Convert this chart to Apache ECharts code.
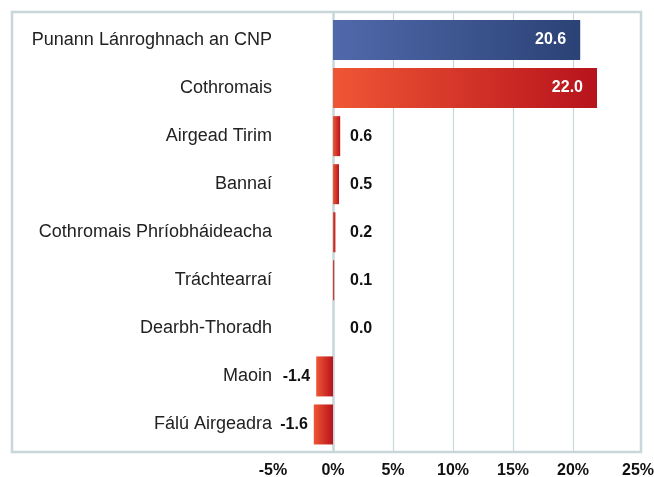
<!DOCTYPE html>
<html>
<head>
<meta charset="utf-8">
<script src="https://cdn.jsdelivr.net/npm/echarts@6/dist/echarts.min.js"></script>
<style>
  html, body { margin: 0; padding: 0; background: #fff; }
  #chart { width: 654px; height: 477px; }
</style>
</head>
<body>
<div id="chart"></div>
<script>
const categories = [
  'Punann Lánroghnach an CNP',
  'Cothromais',
  'Airgead Tirim',
  'Bannaí',
  'Cothromais Phríobháideacha',
  'Tráchtearraí',
  'Dearbh-Thoradh',
  'Maoin',
  'Fálú Airgeadra'
];
const values = [20.6, 22.0, 0.6, 0.5, 0.2, 0.1, 0.0, -1.4, -1.6];
const axisMin = -5;
const axisMax = 25;
const axisStep = 5;

const lineColor = '#c7d7da';
const font = 'Liberation Sans';

function grad(c1, c2) {
  return new echarts.graphic.LinearGradient(0, 0, 1, 0, [
    { offset: 0, color: c1 },
    { offset: 1, color: c2 }
  ]);
}

const barData = values.map(function (v, i) {
  const big = Math.abs(v) > 10;
  const item = {
    value: v,
    itemStyle: {
      color: i === 0 ? grad('#5169ab', '#2b4276') : grad('#ef5634', '#b7131c')
    },
    label: {}
  };
  if (big) {
    item.label = { position: 'insideRight', distance: 14, color: '#fff' };
  } else if (v < 0) {
    item.label = { position: 'left', distance: 6, color: '#111' };
  } else {
    item.label = { position: 'insideLeft', distance: 17, color: '#111' };
  }
  return item;
});

const chart = echarts.init(document.getElementById('chart'));

chart.setOption({
  animation: false,
  graphic: [{
    type: 'rect',
    z: 100,
    shape: { x: 12, y: 12, width: 629, height: 440 },
    style: { fill: 'none', stroke: lineColor, lineWidth: 2.5 }
  }],
  grid: [
    { left: 273, right: 21, top: 12, bottom: 25, outerBoundsMode: 'none' },
    { left: 273, right: 21, top: 16, bottom: 28.5, outerBoundsMode: 'none' }
  ],
  xAxis: [{
    gridIndex: 0,
    type: 'value',
    min: axisMin,
    max: axisMax,
    interval: axisStep,
    axisLine: { show: false },
    axisTick: { show: false },
    axisLabel: {
      margin: 11,
      color: '#111',
      fontFamily: font,
      fontSize: 16,
      fontWeight: 'bold',
      formatter: function (v) {
        // last tick label sits on the right border in the original
        return v === axisMax ? '{last|' + v + '%}' : v + '%';
      },
      rich: {
        last: {
          fontFamily: font,
          fontSize: 16,
          fontWeight: 'bold',
          color: '#111',
          padding: [0, 0, 0, 10]
        }
      }
    },
    splitLine: {
      show: true,
      showMinLine: false,
      showMaxLine: false,
      lineStyle: { color: lineColor, width: 1.2 }
    }
  }, {
    gridIndex: 1,
    type: 'value',
    min: axisMin,
    max: axisMax,
    interval: axisStep,
    show: false
  }],
  yAxis: [{
    gridIndex: 0,
    type: 'value',
    min: 0,
    max: 1,
    axisLine: { show: true, onZero: true, lineStyle: { color: lineColor, width: 2.5 } },
    axisTick: { show: false },
    axisLabel: { show: false },
    splitLine: { show: false }
  }, {
    gridIndex: 1,
    type: 'category',
    inverse: true,
    data: categories,
    axisLine: { show: false, onZero: false },
    axisTick: { show: false },
    axisLabel: {
      margin: 1,
      color: '#222',
      fontFamily: font,
      fontSize: 18
    }
  }],
  series: [{
    type: 'bar',
    xAxisIndex: 1,
    yAxisIndex: 1,
    barWidth: 40,
    z: 3,
    label: {
      show: true,
      fontFamily: font,
      fontSize: 16,
      fontWeight: 'bold',
      formatter: function (p) { return p.value.toFixed(1); }
    },
    data: barData
  }]
});
</script>
</body>
</html>
